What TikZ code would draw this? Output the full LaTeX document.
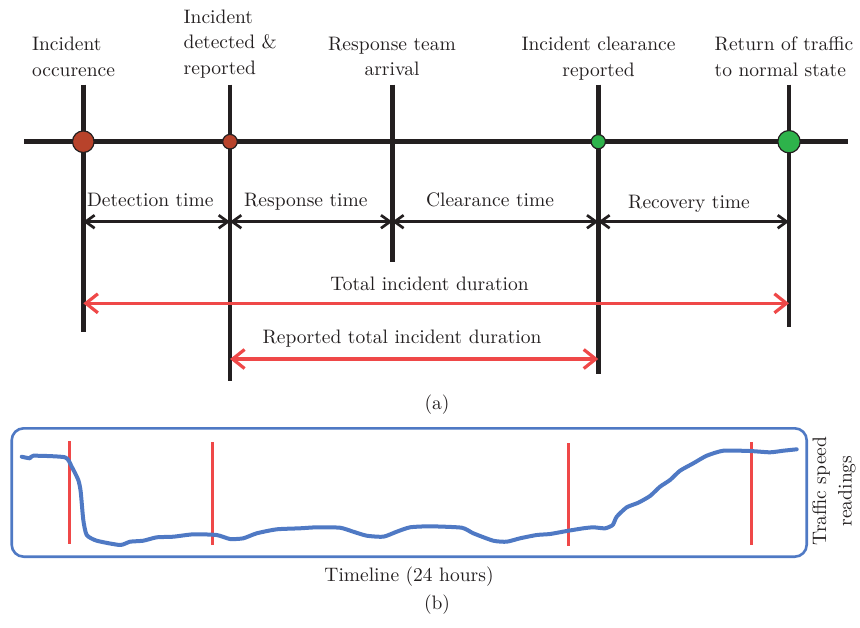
\documentclass[tikz,border=0pt]{standalone}
\usepackage{xcolor}
\usetikzlibrary{arrows.meta}
\definecolor{tlblack}{HTML}{231F20}
\definecolor{durred}{HTML}{EF4848}
\definecolor{occbrown}{HTML}{B8432B}
\definecolor{clrgreen}{HTML}{2EB34B}
\definecolor{speedblue}{HTML}{4F79C4}
\tikzset{
  txt/.style    ={font=\fontsize{9.75}{12.85}\selectfont, text=tlblack, inner sep=0pt},
  lbl/.style    ={txt, anchor=base},
  head/.style   ={txt, align=center, anchor=north},
  axis/.style   ={draw=tlblack, line width=2.75pt},
  tick/.style   ={draw=tlblack, line width=2.4pt},
  evdot/.style  ={circle, draw=tlblack, line width=0.6pt, inner sep=0pt},
  dimline/.style={{Straight Barb[length=4.5pt,width=6.5pt]}-{Straight Barb[length=4.5pt,width=6.5pt]}, draw=tlblack, line width=1.35pt},
  durline/.style={{Straight Barb[length=6pt,width=9.5pt]}-{Straight Barb[length=6pt,width=9.5pt]}, draw=durred, line width=1.6pt},
  redtick/.style={draw=durred, line width=1.3pt},
  speedbox/.style={draw=speedblue, line width=1.3pt, rounded corners=6pt},
  speed/.style  ={draw=speedblue, line width=2pt, line join=round, line cap=round}
}

\begin{document}
\begin{tikzpicture}[x=0.5pt, y=-0.5pt]
    \useasboundingbox (0,0) rectangle (860,627);
    % (a) timeline
    \coordinate (axl) at (24,141.7);
    \coordinate (axr) at (848.3,141.7);
    \foreach \n/\x/\yb in {1/83.3/331.7, 2/230/380.7, 3/392.3/261.7, 4/598.3/374.3, 5/789/327.3} {
      \coordinate (top\n) at (\x,84.5);
      \coordinate (bot\n) at (\x,\yb);
    }
    \coordinate (row1) at (0,221.7);
    \coordinate (row2) at (0,303.3);
    \coordinate (row3) at (0,359);
    \draw[axis] (axl) -- (axr);
    \foreach \n in {1,...,5} \draw[tick] (top\n) -- (bot\n);
    % events on the axis
    \node[evdot, fill=occbrown, minimum size=10.8pt] (occ) at (top1 |- axl) {};
    \node[evdot, fill=occbrown, minimum size=7.3pt]  (det) at (top2 |- axl) {};
    \node[evdot, fill=clrgreen, minimum size=7.1pt]  (clr) at (top4 |- axl) {};
    \node[evdot, fill=clrgreen, minimum size=11.2pt] (ret) at (top5 |- axl) {};
    % event names
    \node[head, anchor=north west, align=left] (hocc) at (31.7,36.5) {Incident\\occurence};
    \node[head, anchor=north west, align=left] (hdet) at (183.3,9.2) {Incident\\detected \&\\reported};
    \node[head] (hres) at (392,36.5) {Response team\\arrival};
    \node[head] (hclr) at (598.5,36.5) {Incident clearance\\reported};
    \node[head, anchor=north west, align=left] (hret) at (714.3,36.5) {Return of traffic\\to normal state};
    % phases
    \draw[dimline] (top1 |- row1) -- (top2 |- row1);
    \draw[dimline] (top2 |- row1) -- (top3 |- row1);
    \draw[dimline] (top3 |- row1) -- (top4 |- row1);
    \draw[dimline] (top4 |- row1) -- (top5 |- row1);
    \node[lbl] (detl) at (150.3,206.7) {Detection time};
    \node[lbl] (resl) at (305.8,206.7) {Response time};
    \node[lbl] (clrl) at (490,206.7) {Clearance time};
    \node[lbl] (recl) at (689,208.3) {Recovery time};
    % durations
    \draw[durline] (top1 |- row2) -- (top5 |- row2);
    \draw[durline] (top2 |- row3) -- (top4 |- row3);
    \node[lbl] (totl) at (429.5,290) {Total incident duration};
    \node[lbl] (repl) at (402,343.3) {Reported total incident duration};
    \node[lbl] (capa) at (437,409) {(a)};
    % (b) speed readings
    \draw[speedbox] (11.7,428.3) rectangle (806.7,556.7);
    \foreach \x/\ya/\yb in {69.3/441/544, 212.3/442/545, 568.3/443/545.7, 751.3/442/544.7}
      \draw[redtick] (\x,\ya) -- (\x,\yb);
    \draw[speed] plot[smooth, tension=0.35] coordinates {
      (21.7,456.7) (30,458.3) (33.3,455.7) (65,457.3) (71.7,466.7) (78.3,480)
      (80.7,491.7) (83.3,520) (86.7,535) (96.7,540.7) (120,545) (130,541.7)
      (143.3,540.7) (156.7,537.3) (173.3,536.7) (193.3,534.3) (216.7,535)
      (230,539) (243.3,538.3) (256.7,533.3) (276.7,529.3) (300,528.3)
      (316.7,527.3) (340,527.7) (353.3,531.7) (366.7,535.7) (383.3,536.7)
      (396.7,531.7) (410,527.3) (430,526.3) (461.7,527.7) (473.3,533.3)
      (493.3,540.7) (506.7,541.7) (520,538.3) (536.7,535) (550,534)
      (566.7,531) (583.3,528.3) (593.3,527.3) (605,528.3) (612.7,525)
      (616.7,516.7) (626.7,507.3) (638.3,502.7) (650,496) (660,486.7)
      (670,480) (680,470.7) (693.3,463.3) (706.7,455.7) (723.3,450.7)
      (750,451) (770,452.3) (783.3,450.7) (796.7,449.3)};
    \node[txt, align=center, rotate=90] (ylab) at (834,491) {Traffic speed\\readings};
    \node[lbl] (timel) at (409,581) {Timeline (24 hours)};
    \node[lbl] (capb) at (437,609) {(b)};
\end{tikzpicture}
\end{document}
